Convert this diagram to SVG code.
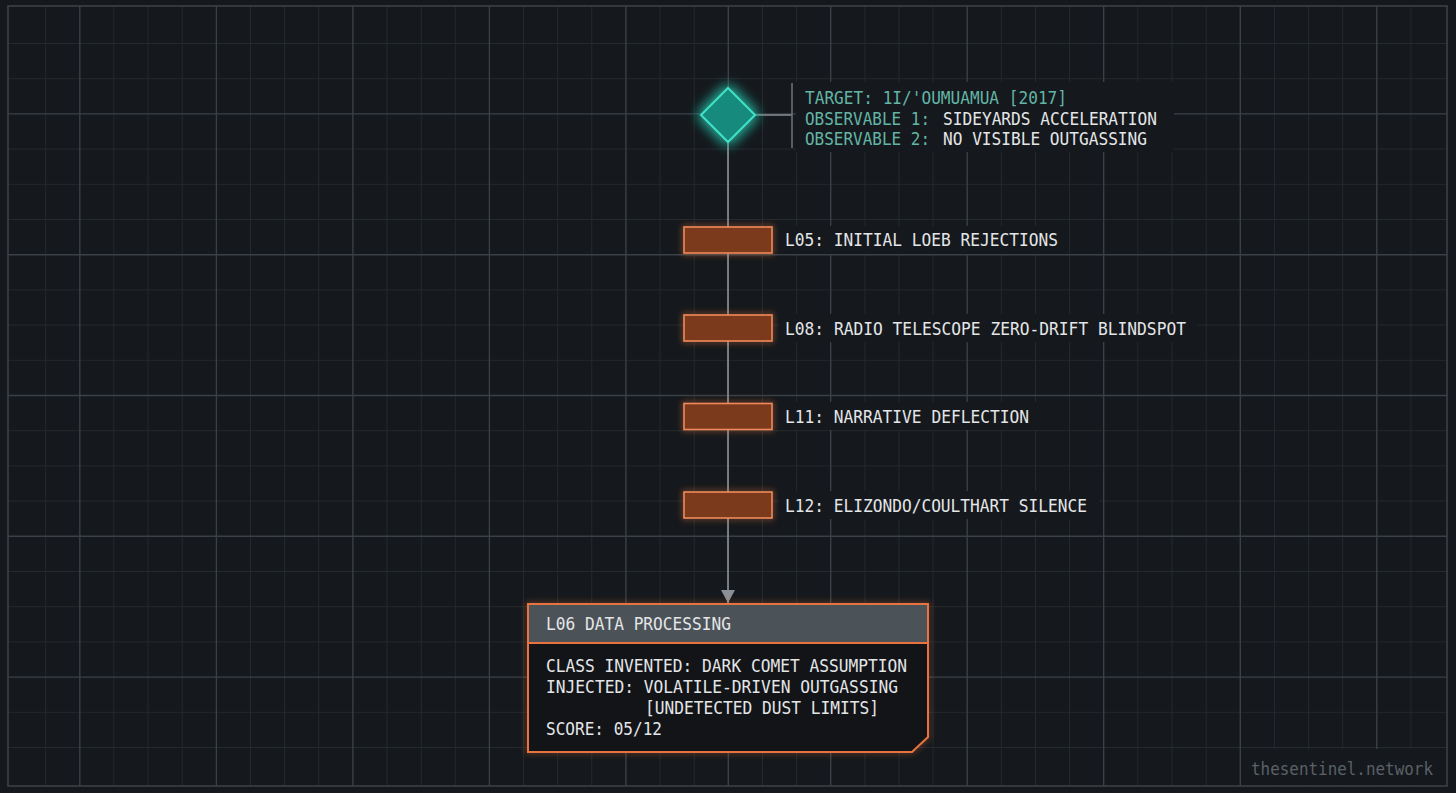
<svg xmlns="http://www.w3.org/2000/svg" width="1456" height="793" viewBox="0 0 1456 793">
<defs>
<style>
.minor{stroke:#252a2f;stroke-width:1}
.major{stroke:#3a4046;stroke-width:1.4}
.t{font-family:"DejaVu Sans Mono","Liberation Mono",monospace;font-size:18px}
.teal{fill:#63b5a6}
.white{fill:#e4e6e8}
.wm{font-family:"DejaVu Sans Mono","Liberation Mono",monospace;font-size:17px;fill:#5b6167}
.bar{fill:#7c3a1d;stroke:#ef8a5c;stroke-width:1.6}
.tbg{fill:#15181c}
.conn{stroke:#8a8f94;stroke-width:1.6;fill:none}
</style>
<filter id="glowT" x="-100%" y="-100%" width="300%" height="300%">
<feGaussianBlur in="SourceGraphic" stdDeviation="7" result="b"/>
<feMerge><feMergeNode in="b"/><feMergeNode in="b"/><feMergeNode in="SourceGraphic"/></feMerge>
</filter>
<filter id="blurO" x="-20%" y="-40%" width="140%" height="180%">
<feGaussianBlur stdDeviation="3"/>
</filter>
<marker id="arr" markerWidth="14" markerHeight="14" refX="13" refY="7" orient="auto" markerUnits="userSpaceOnUse" viewBox="0 0 14 14">
<path d="M0,0 L13,7 L0,14 Z" fill="#8a9096"/>
</marker>
</defs>

<rect x="0" y="0" width="1456" height="793" fill="#15181c"/>

<g id="grid">
<g class="minor">
<line x1="45.7" y1="6" x2="45.7" y2="786"/>
<line x1="113.9" y1="6" x2="113.9" y2="786"/>
<line x1="148.1" y1="6" x2="148.1" y2="786"/>
<line x1="182.2" y1="6" x2="182.2" y2="786"/>
<line x1="250.5" y1="6" x2="250.5" y2="786"/>
<line x1="284.6" y1="6" x2="284.6" y2="786"/>
<line x1="318.8" y1="6" x2="318.8" y2="786"/>
<line x1="387.0" y1="6" x2="387.0" y2="786"/>
<line x1="421.2" y1="6" x2="421.2" y2="786"/>
<line x1="455.3" y1="6" x2="455.3" y2="786"/>
<line x1="523.6" y1="6" x2="523.6" y2="786"/>
<line x1="557.7" y1="6" x2="557.7" y2="786"/>
<line x1="591.8" y1="6" x2="591.8" y2="786"/>
<line x1="660.1" y1="6" x2="660.1" y2="786"/>
<line x1="694.2" y1="6" x2="694.2" y2="786"/>
<line x1="762.5" y1="6" x2="762.5" y2="786"/>
<line x1="796.6" y1="6" x2="796.6" y2="786"/>
<line x1="864.9" y1="6" x2="864.9" y2="786"/>
<line x1="899.0" y1="6" x2="899.0" y2="786"/>
<line x1="933.1" y1="6" x2="933.1" y2="786"/>
<line x1="1001.4" y1="6" x2="1001.4" y2="786"/>
<line x1="1035.5" y1="6" x2="1035.5" y2="786"/>
<line x1="1069.6" y1="6" x2="1069.6" y2="786"/>
<line x1="1137.9" y1="6" x2="1137.9" y2="786"/>
<line x1="1172.0" y1="6" x2="1172.0" y2="786"/>
<line x1="1206.2" y1="6" x2="1206.2" y2="786"/>
<line x1="1274.4" y1="6" x2="1274.4" y2="786"/>
<line x1="1308.6" y1="6" x2="1308.6" y2="786"/>
<line x1="1342.7" y1="6" x2="1342.7" y2="786"/>
<line x1="1410.9" y1="6" x2="1410.9" y2="786"/>
<line x1="8" y1="43.5" x2="1447" y2="43.5"/>
<line x1="8" y1="78.7" x2="1447" y2="78.7"/>
<line x1="8" y1="149.1" x2="1447" y2="149.1"/>
<line x1="8" y1="184.3" x2="1447" y2="184.3"/>
<line x1="8" y1="219.5" x2="1447" y2="219.5"/>
<line x1="8" y1="289.9" x2="1447" y2="289.9"/>
<line x1="8" y1="325.1" x2="1447" y2="325.1"/>
<line x1="8" y1="360.3" x2="1447" y2="360.3"/>
<line x1="8" y1="430.7" x2="1447" y2="430.7"/>
<line x1="8" y1="465.9" x2="1447" y2="465.9"/>
<line x1="8" y1="501.1" x2="1447" y2="501.1"/>
<line x1="8" y1="571.5" x2="1447" y2="571.5"/>
<line x1="8" y1="606.7" x2="1447" y2="606.7"/>
<line x1="8" y1="641.9" x2="1447" y2="641.9"/>
<line x1="8" y1="712.3" x2="1447" y2="712.3"/>
<line x1="8" y1="747.5" x2="1447" y2="747.5"/>
</g>
<g class="major">
<line x1="79.8" y1="6" x2="79.8" y2="786"/>
<line x1="216.4" y1="6" x2="216.4" y2="786"/>
<line x1="352.9" y1="6" x2="352.9" y2="786"/>
<line x1="489.4" y1="6" x2="489.4" y2="786"/>
<line x1="625.9" y1="6" x2="625.9" y2="786"/>
<line x1="728.3" y1="6" x2="728.3" y2="786"/>
<line x1="830.7" y1="6" x2="830.7" y2="786"/>
<line x1="967.2" y1="6" x2="967.2" y2="786"/>
<line x1="1103.7" y1="6" x2="1103.7" y2="786"/>
<line x1="1240.3" y1="6" x2="1240.3" y2="786"/>
<line x1="1376.8" y1="6" x2="1376.8" y2="786"/>
<line x1="8" y1="113.9" x2="1447" y2="113.9"/>
<line x1="8" y1="254.7" x2="1447" y2="254.7"/>
<line x1="8" y1="395.5" x2="1447" y2="395.5"/>
<line x1="8" y1="536.3" x2="1447" y2="536.3"/>
<line x1="8" y1="677.1" x2="1447" y2="677.1"/>
</g>
<rect x="8" y="6" width="1439" height="780" fill="none" stroke="#3c4247" stroke-width="1.6"/>
</g>

<g id="connectors">
<line class="conn" x1="755" y1="115" x2="792" y2="115" stroke="#6e7479"/>
<line class="conn" x1="728" y1="142" x2="728" y2="603" marker-end="url(#arr)"/>
</g>

<g id="target">
<rect class="tbg" x="796" y="82" width="378" height="70"/>
<line x1="792" y1="83" x2="792" y2="148" stroke="#6a7075" stroke-width="1.6"/>
<polygon points="728,88 755,115 728,142 701,115" fill="#178a7b" stroke="#3ee2c7" stroke-width="2" filter="url(#glowT)"/>
<text class="t teal" x="805" y="103.5" textLength="262" lengthAdjust="spacingAndGlyphs">TARGET: 1I/'OUMUAMUA [2017]</text>
<text class="t teal" x="805" y="124.5" textLength="125" lengthAdjust="spacingAndGlyphs">OBSERVABLE 1:</text>
<text class="t white" x="943" y="124.5" textLength="214" lengthAdjust="spacingAndGlyphs">SIDEYARDS ACCELERATION</text>
<text class="t teal" x="805" y="145" textLength="125" lengthAdjust="spacingAndGlyphs">OBSERVABLE 2:</text>
<text class="t white" x="943" y="145" textLength="204" lengthAdjust="spacingAndGlyphs">NO VISIBLE OUTGASSING</text>
</g>

<g id="l05">
<rect x="684" y="227" width="88" height="26" fill="none" stroke="#ef7a45" stroke-width="3" opacity="0.6" filter="url(#blurO)"/>
<rect class="bar" x="684" y="227" width="88" height="26"/>
<rect class="tbg" x="779" y="226" width="290" height="28"/>
<text class="t white" x="785" y="246" textLength="273" lengthAdjust="spacingAndGlyphs">L05: INITIAL LOEB REJECTIONS</text>
</g>

<g id="l08">
<rect x="684" y="315" width="88" height="26" fill="none" stroke="#ef7a45" stroke-width="3" opacity="0.6" filter="url(#blurO)"/>
<rect class="bar" x="684" y="315" width="88" height="26"/>
<rect class="tbg" x="779" y="314" width="418" height="28"/>
<text class="t white" x="785" y="335" textLength="401" lengthAdjust="spacingAndGlyphs">L08: RADIO TELESCOPE ZERO-DRIFT BLINDSPOT</text>
</g>

<g id="l11">
<rect x="684" y="403.5" width="88" height="26" fill="none" stroke="#ef7a45" stroke-width="3" opacity="0.6" filter="url(#blurO)"/>
<rect class="bar" x="684" y="403.5" width="88" height="26"/>
<rect class="tbg" x="779" y="402" width="262" height="28"/>
<text class="t white" x="785" y="423" textLength="244" lengthAdjust="spacingAndGlyphs">L11: NARRATIVE DEFLECTION</text>
</g>

<g id="l12">
<rect x="684" y="492" width="88" height="26" fill="none" stroke="#ef7a45" stroke-width="3" opacity="0.6" filter="url(#blurO)"/>
<rect class="bar" x="684" y="492" width="88" height="26"/>
<rect class="tbg" x="779" y="491" width="320" height="28"/>
<text class="t white" x="785" y="512" textLength="302" lengthAdjust="spacingAndGlyphs">L12: ELIZONDO/COULTHART SILENCE</text>
</g>

<g id="l06">
<path d="M528,604 H928 V737 L912,752 H528 Z" fill="none" stroke="#e8733e" stroke-width="3" opacity="0.5" filter="url(#blurO)"/>
<path d="M528,604 H928 V737 L912,752 H528 Z" fill="#121418"/>
<rect x="529" y="605" width="398" height="38" fill="#4b5258"/>
<line x1="528" y1="643" x2="928" y2="643" stroke="#e8733e" stroke-width="2"/>
<path d="M528,604 H928 V737 L912,752 H528 Z" fill="none" stroke="#e8733e" stroke-width="2"/>
<text class="t white" x="546" y="630" textLength="185" lengthAdjust="spacingAndGlyphs">L06 DATA PROCESSING</text>
<text class="t white" x="546" y="672" textLength="361" lengthAdjust="spacingAndGlyphs">CLASS INVENTED: DARK COMET ASSUMPTION</text>
<text class="t white" x="546" y="693" textLength="352" lengthAdjust="spacingAndGlyphs">INJECTED: VOLATILE-DRIVEN OUTGASSING</text>
<text class="t white" x="645" y="714" textLength="234" lengthAdjust="spacingAndGlyphs">[UNDETECTED DUST LIMITS]</text>
<text class="t white" x="546" y="735" textLength="116" lengthAdjust="spacingAndGlyphs">SCORE: 05/12</text>
</g>

<g id="watermark">
<rect class="tbg" x="1241" y="749" width="205" height="36"/>
<text class="wm" x="1251" y="775" textLength="182" lengthAdjust="spacingAndGlyphs">thesentinel.network</text>
</g>
</svg>
